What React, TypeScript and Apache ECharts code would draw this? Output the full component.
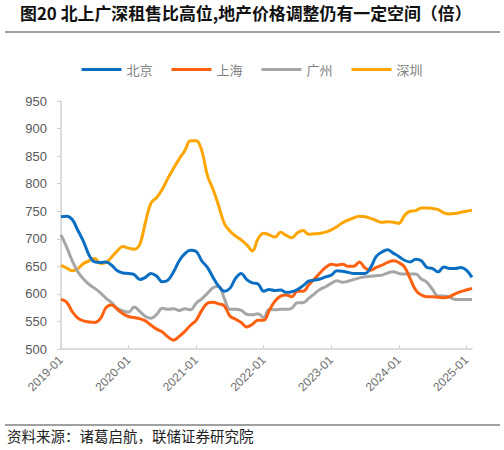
import React, { useEffect, useRef } from "react";
import * as echarts from "echarts";

const startYear = 2019;
const monthCount = 74;
const categories: string[] = [];
for (let i = 0; i < monthCount; i++) {
  const y = startYear + Math.floor(i / 12);
  const m = (i % 12) + 1;
  categories.push(`${y}-${m < 10 ? "0" + m : m}`);
}

const seriesNames = ["北京", "上海", "广州", "深圳"];

const beijing = [
  740, 741, 735, 715, 695, 670, 658, 657, 658, 652, 642, 638,
  637, 635, 626, 630, 637, 632, 622, 625, 640, 660, 673, 679,
  677, 660, 648, 630, 614, 605, 610, 628, 637, 626, 620, 618,
  605, 608, 606, 607, 603, 604, 608, 615, 623, 625, 627, 631,
  634, 642, 641, 639, 637, 637, 637, 648, 668, 676, 680, 674,
  668, 661, 658, 663, 660, 648, 646, 640, 649, 646, 646, 648,
  643, 630,
];

const shanghai = [
  590, 585, 568, 556, 551, 549, 548, 555, 575, 580, 572, 564,
  559, 557, 555, 551, 543, 536, 531, 522, 516, 523, 532, 543,
  552, 570, 583, 585, 582, 578, 560, 554, 548, 540, 545, 552,
  552, 570, 587, 596, 598, 595, 605, 605, 616, 627, 638, 648,
  654, 652, 654, 650, 650, 658, 647, 643, 648, 652, 657, 660,
  657, 649, 628, 607, 598, 595, 595, 594, 593, 595, 600, 604,
  607, 610,
];

const guangzhou = [
  707, 685, 660, 640, 627, 617, 610, 602, 592, 584, 574, 569,
  567, 576, 568, 559, 556, 563, 574, 572, 573, 570, 573, 571,
  583, 591, 601, 611, 614, 592, 572, 572, 570, 563, 562, 564,
  557, 572, 571, 572, 572, 574, 584, 584, 592, 600, 608, 613,
  619, 624, 621, 623, 626, 629, 631, 632, 633, 634, 638, 640,
  637, 636, 636, 636, 627, 621, 608, 596, 596, 594, 590, 590,
  590, 590,
];

const shenzhen = [
  652, 647, 642, 646, 655, 660, 664, 655, 657, 667, 678, 686,
  683, 681, 690, 730, 765, 775, 790, 810, 828, 845, 860, 878,
  878, 860, 815, 790, 760, 728, 714, 705, 698, 689, 678, 700,
  710, 707, 703, 712, 706, 702, 711, 715, 708, 709, 710, 712,
  716, 722, 729, 734, 738, 741, 740, 737, 733, 730, 731, 730,
  728, 742, 750, 751, 756, 756, 755, 753, 747, 745, 746, 748,
  750, 752,
];

const colors = ["#0A6FC2", "#FF6010", "#A6A6A6", "#FFA500"];
const yTicks = { min: 500, max: 950, interval: 50 };

const titleText = "图20 北上广深租售比高位,地产价格调整仍有一定空间（倍）";
const sourceText = "资料来源：诸葛启航，联储证券研究院";

const CJK = '"Noto Sans CJK SC", "Liberation Sans", sans-serif';
const LAT = '"Liberation Sans", Arial, sans-serif';

export default function App() {
  const ref = useRef<HTMLDivElement>(null);
  useEffect(() => {
    if (!ref.current) return;
    const chart = echarts.init(ref.current, undefined, { renderer: "svg" });
    const allData = [beijing, shanghai, guangzhou, shenzhen];
    chart.setOption({
      animation: false,
      backgroundColor: "#ffffff",
      color: colors,
      grid: { left: 61, right: 32, top: 101, bottom: 101, containLabel: false },
      legend: {
        top: 58,
        left: "center",
        icon: "rect",
        itemWidth: 40,
        itemHeight: 3,
        itemGap: 19,
        textStyle: { color: "#808080", fontSize: 13, fontFamily: CJK },
        data: seriesNames,
      },
      xAxis: {
        type: "category",
        data: categories,
        boundaryGap: false,
        axisLine: { lineStyle: { color: "#d0d0d0", width: 1.5 } },
        axisTick: {
          show: true,
          inside: true,
          length: 4,
          interval: 11,
          lineStyle: { color: "#d0d0d0", width: 1 },
        },
        axisLabel: {
          interval: 11,
          rotate: 45,
          color: "#6e6e6e",
          fontSize: 12,
          fontFamily: LAT,
          margin: 9,
        },
        splitLine: { show: false },
      },
      yAxis: {
        type: "value",
        min: yTicks.min,
        max: yTicks.max,
        interval: yTicks.interval,
        axisLine: { show: true, lineStyle: { color: "#d0d0d0", width: 1.5 } },
        axisTick: { show: true, length: 4, lineStyle: { color: "#d0d0d0" } },
        axisLabel: { color: "#595959", fontSize: 13, fontFamily: LAT, margin: 14 },
        splitLine: { show: false },
      },
      series: seriesNames.map((name, i) => ({
        name,
        type: "line",
        data: allData[i],
        smooth: 0.4,
        showSymbol: false,
        symbol: "none",
        lineStyle: { width: 3, color: colors[i] },
        z: i === 0 ? 5 : 4 - i,
      })),
      graphic: [
        {
          type: "text",
          left: 20,
          top: 4,
          style: {
            text: titleText,
            fill: "#111",
            font: `bold 16.9px ${CJK}`,
          },
        },
        {
          type: "line",
          shape: { x1: 5, y1: 32, x2: 500, y2: 32 },
          style: { stroke: "#808080", lineWidth: 1.5 },
        },
        {
          type: "line",
          shape: { x1: 5, y1: 425, x2: 500, y2: 425 },
          style: { stroke: "#808080", lineWidth: 1.5 },
        },
        {
          type: "text",
          left: 7,
          top: 428,
          style: {
            text: sourceText,
            fill: "#222",
            font: `14.5px ${CJK}`,
          },
        },
      ],
    });
    return () => chart.dispose();
  }, []);
  return (
    <div
      ref={ref}
      style={{ position: "fixed", left: 0, top: 0, width: 504, height: 450 }}
    />
  );
}
